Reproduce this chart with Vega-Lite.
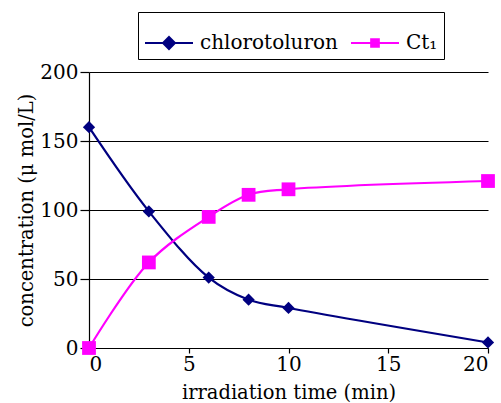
{
  "$schema": "https://vega.github.io/schema/vega-lite/v6.json",
  "width": 399,
  "height": 276,
  "autosize": "none",
  "padding": {"left": 89, "top": 72, "right": 13, "bottom": 55},
  "background": "white",
  "config": {
    "font": "DejaVu Serif",
    "view": {"stroke": null},
    "axis": {"labelFont": "DejaVu Serif", "titleFont": "DejaVu Serif", "labelColor": "black", "titleColor": "black", "labelFontSize": 20, "titleFontSize": 19.5, "titleFontWeight": "normal", "domainColor": "black", "tickColor": "black", "gridColor": "black", "gridOpacity": 1, "domainWidth": 1.2, "tickWidth": 1.2}
  },
  "data": {
    "values": [
      {"t": 0, "c": 160, "s": "chlorotoluron"},
      {"t": 3, "c": 99, "s": "chlorotoluron"},
      {"t": 6, "c": 51, "s": "chlorotoluron"},
      {"t": 8, "c": 35, "s": "chlorotoluron"},
      {"t": 10, "c": 29, "s": "chlorotoluron"},
      {"t": 20, "c": 4, "s": "chlorotoluron"},
      {"t": 0, "c": 0, "s": "Ct₁"},
      {"t": 3, "c": 62, "s": "Ct₁"},
      {"t": 6, "c": 95, "s": "Ct₁"},
      {"t": 8, "c": 111, "s": "Ct₁"},
      {"t": 10, "c": 115, "s": "Ct₁"},
      {"t": 20, "c": 121, "s": "Ct₁"}
    ]
  },
  "encoding": {
    "x": {"field": "t", "type": "quantitative", "scale": {"domain": [0, 20], "nice": false}, "axis": {"values": [0, 5, 10, 15, 20], "grid": false, "tickSize": 5, "labelPadding": 1, "titlePadding": 9, "title": "irradiation time (min)"}},
    "y": {"field": "c", "type": "quantitative", "scale": {"domain": [0, 200], "nice": false}, "axis": {"values": [0, 50, 100, 150, 200], "grid": true, "gridWidth": 1.2, "tickSize": 9, "labelPadding": 2, "titlePadding": 3, "title": "concentration (μ mol/L)"}},
    "color": {
      "field": "s", "type": "nominal",
      "scale": {"domain": ["chlorotoluron", "Ct₁"], "range": ["#000080", "#FF00FF"]},
      "legend": {
        "title": null,
        "orient": "none",
        "legendX": 49,
        "legendY": -60,
        "direction": "horizontal",
        "strokeColor": "black",
        "fillColor": "white",
        "padding": 6,
        "labelFont": "DejaVu Serif",
        "labelFontSize": 20,
        "labelColor": "black",
        "labelLimit": 300,
        "symbolSize": 2304,
        "symbolStrokeWidth": 2,
        "symbolOpacity": 1,
        "labelOffset": 6,
        "columnPadding": 9,
        "encode": {
          "symbols": {
            "update": {
              "shape": {"signal": "datum.value === 'chlorotoluron' ? 'M-1,0L1,0M0,-0.25L0.25,0L0,0.25L-0.25,0Z' : 'M-1,0L1,0M-0.16,-0.16L0.16,-0.16L0.16,0.16L-0.16,0.16Z'"},
              "size": {"value": 2304},
              "fill": {"signal": "datum.value === 'chlorotoluron' ? '#000080' : '#FF00FF'"},
              "stroke": {"signal": "datum.value === 'chlorotoluron' ? '#000080' : '#FF00FF'"},
              "strokeWidth": {"value": 2}
            }
          }
        }
      }
    }
  },
  "layer": [
    {
      "mark": {"type": "line", "interpolate": "catmull-rom", "strokeWidth": 2.2}
    },
    {
      "transform": [{"filter": "datum.s === 'chlorotoluron'"}],
      "mark": {"type": "point", "filled": true, "opacity": 1, "shape": "diamond", "size": 150}
    },
    {
      "transform": [{"filter": "datum.s !== 'chlorotoluron'"}],
      "mark": {"type": "point", "filled": true, "opacity": 1, "shape": "square", "size": 190}
    }
  ]
}
